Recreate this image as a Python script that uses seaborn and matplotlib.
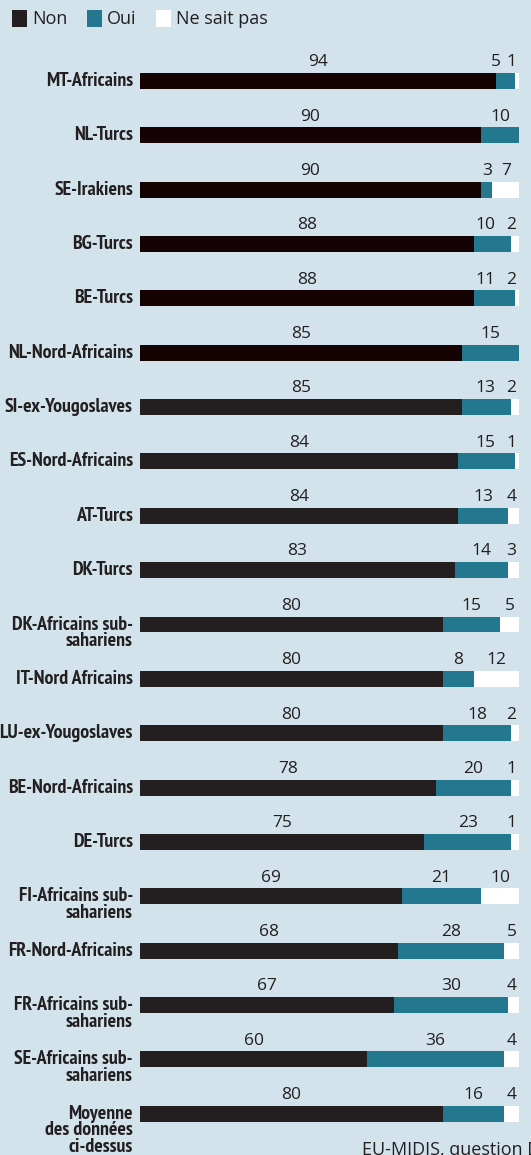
import numpy as np
import pandas as pd
import matplotlib
matplotlib.use("Agg")
import matplotlib.pyplot as plt
from matplotlib.patches import Rectangle
from matplotlib import font_manager as fm
import seaborn as sns

categories = [
    "MT-Africains", "NL-Turcs", "SE-Irakiens", "BG-Turcs", "BE-Turcs",
    "NL-Nord-Africains", "SI-ex-Yougoslaves", "ES-Nord-Africains", "AT-Turcs",
    "DK-Turcs", "DK-Africains sub-\nsahariens", "IT-Nord Africains",
    "LU-ex-Yougoslaves", "BE-Nord-Africains", "DE-Turcs",
    "FI-Africains sub-\nsahariens", "FR-Nord-Africains",
    "FR-Africains sub-\nsahariens", "SE-Africains sub-\nsahariens",
    "Moyenne\ndes données\nci-dessus",
]
non = [94, 90, 90, 88, 88, 85, 85, 84, 84, 83, 80, 80, 80, 78, 75, 69, 68, 67, 60, 80]
oui = [5, 10, 3, 10, 11, 15, 13, 15, 13, 14, 15, 8, 18, 20, 23, 21, 28, 30, 36, 16]
nsp = [1, 0, 7, 2, 2, 0, 2, 1, 4, 3, 5, 12, 2, 1, 1, 10, 5, 4, 4, 4]
series_names = ["Non", "Oui", "Ne sait pas"]

BG = "#d2e3ec"
TEAL = "#23788f"
DARK1 = "#150203"
DARK2 = "#231f20"
WHITE = "#ffffff"

n = len(categories)
non_colors = [DARK1 if i < 6 else DARK2 for i in range(n)]

df = pd.DataFrame({"cat": categories, "non": non, "oui": oui, "nsp": nsp})
df["cum_oui"] = df["non"] + df["oui"]
df["full"] = 100


def _is_bold(w):
    if isinstance(w, (int, float)):
        return w >= 600
    return str(w).lower() in ("bold", "heavy", "black", "extra bold", "demibold", "semibold")


def pick_condensed_bold():
    best, best_score = None, 99
    for f in fm.fontManager.ttflist:
        if str(f.style) != "normal" or not _is_bold(f.weight):
            continue
        nm = f.name.lower()
        st = str(f.stretch).lower()
        score = 99
        if "narrow" in nm:
            score = 0
        elif "condensed" in nm and "roboto" in nm:
            score = 1
        elif "condensed" in nm:
            score = 2
        elif "condensed" in st and "dejavu sans" in nm and "mono" not in nm:
            score = 3
        elif "condensed" in st:
            score = 4
        if score < best_score:
            best, best_score = f, score
    if best is None:
        return fm.FontProperties(family="DejaVu Sans", weight="bold")
    return fm.FontProperties(fname=best.fname)


sns.set_style("white")
W, H = 531, 1155
fig = plt.figure(figsize=(W / 100, H / 100), dpi=100, facecolor=BG)

ax_left, ax_right = 140, 519
ax = fig.add_axes([ax_left / W, 0, (ax_right - ax_left) / W, 1])
ax.set_facecolor(BG)

bw = 0.294
sns.barplot(data=df, y="cat", x="full", orient="h", color=WHITE, width=bw,
            saturation=1, ax=ax, order=categories)
sns.barplot(data=df, y="cat", x="cum_oui", orient="h", color=TEAL, width=bw,
            saturation=1, ax=ax, order=categories)
sns.barplot(data=df, y="cat", x="non", orient="h", hue="cat", palette=non_colors,
            width=bw, saturation=1, ax=ax, order=categories, hue_order=categories,
            legend=False, dodge=False)
for p in ax.patches:
    p.set_linewidth(0)

spacing = 54.35
top_y = 81
ax.set_xlim(0, 100)
ax.set_ylim(19 + (H - (top_y + 19 * spacing)) / spacing, -top_y / spacing)
ax.axis("off")

lab_fp = pick_condensed_bold()
lab_fp.set_size(14.3)

num_font = dict(family=["Open Sans", "DejaVu Sans"], fontsize=12.5, color="#231f20")

for i in range(n):
    y_lab = i - 0.27
    a, b, c = non[i], oui[i], nsp[i]
    if a:
        ax.text(a / 2, y_lab, str(a), ha="center", va="baseline", **num_font)
    nsp_x = None
    if c:
        nsp_x = min(a + b + c / 2, 98.0)
        ax.text(nsp_x, y_lab, str(c), ha="center", va="baseline", **num_font)
    if b:
        bx = a + b / 2
        if nsp_x is not None:
            bx = min(bx, nsp_x - (1.6 + 2.6 * len(str(b))))
        else:
            bx = min(bx, 98.0)
        ax.text(bx, y_lab, str(b), ha="center", va="baseline", **num_font)
    lines = categories[i].split("\n")
    for k, line in enumerate(lines):
        ax.text(-1.85, i + k * 0.31, line, ha="right", va="center",
                clip_on=False, fontproperties=lab_fp, color="#231f20")

# legend
leg_items = [(12, "Non", DARK2, 32), (87, "Oui", TEAL, 107), (156, "Ne sait pas", WHITE, 176)]
for x0, name, col, tx in leg_items:
    fig.patches.append(Rectangle((x0 / W, 1 - 27 / H), 15 / W, 17 / H,
                                 transform=fig.transFigure, facecolor=col,
                                 edgecolor="none"))
    fig.text(tx / W, 1 - 19 / H, name, ha="left", va="center",
             family=["Open Sans", "DejaVu Sans"], fontsize=13, color="#231f20")

fig.text(362 / W, 1 - 1141 / H, "EU-MIDIS, question DA3", ha="left", va="top",
         family=["Open Sans", "DejaVu Sans"], fontsize=13, color="#231f20")

fig.savefig("out.png", dpi=100, facecolor=BG)
